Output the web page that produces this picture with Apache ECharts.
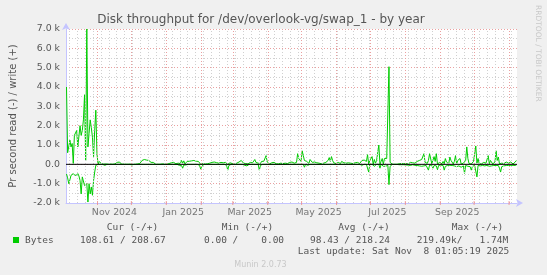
<!DOCTYPE html>
<html><head><meta charset="utf-8">
<script src="https://cdn.jsdelivr.net/npm/echarts@6/dist/echarts.min.js"></script>
<style>html,body{margin:0;padding:0;background:#f0f0f0}#c{width:547px;height:275px}</style>
</head><body><div id="c"></div>
<script>
// ---- data (daily averages, bytes per second) ----
const firstDay = '2024-10-04';
const axisStart = '2024-10-04T01:05:00Z';
const axisEnd = '2025-11-08T01:05:00Z';
const writeBytes = [
4000,600,650,1250,900,1080,50,1500,1600,1750,900,1000,2000,1500,1750,2300,3600,200,7000,900,1600,2300,1900,1400,400,1750,2800,550,0,150,
100,30,20,10,0,20,10,0,0,10,
0,0,10,20,30,100,180,120,20,0,
0,10,0,0,20,0,0,10,0,0,
0,0,10,20,30,40,100,200,150,250,
180,220,120,200,150,100,180,100,50,10,
0,0,10,0,0,20,30,10,0,0,
20,40,100,80,120,100,60,30,20,60,
150,40,200,60,180,20,120,150,130,160,
100,180,140,200,120,160,90,150,60,0,
30,40,20,10,0,30,40,60,30,100,
80,120,100,90,110,60,40,100,120,80,
130,100,50,0,40,80,60,40,20,10,
30,60,80,120,60,200,120,60,100,40,
80,20,60,100,20,80,60,250,100,0,
60,0,40,150,120,160,100,450,120,60,
20,40,80,40,100,60,30,50,20,40,
60,20,40,30,60,80,40,20,100,80,
120,100,60,30,100,550,300,350,150,700,
450,200,100,150,60,50,250,180,100,200,
120,50,80,100,60,40,30,80,60,120,
100,120,200,350,150,400,200,80,60,40,
60,100,80,40,150,60,80,120,60,40,
80,100,60,150,40,60,80,150,100,60,
40,120,200,180,220,200,150,500,0,200,
150,400,0,250,60,200,100,1000,0,150,
300,0,300,250,300,400,5050,100,20,10,
0,0,10,0,0,30,60,40,50,30,
60,40,30,20,50,100,200,80,40,60,
100,150,120,200,150,250,300,550,100,100,
50,200,550,650,30,20,400,150,550,20,
30,100,40,30,150,30,300,120,80,30,
380,200,250,20,150,450,30,200,100,300,
20,120,60,30,200,900,300,40,100,20,
60,150,120,950,60,300,30,80,20,120,
100,200,60,30,450,30,200,150,20,60,
120,700,200,380,20,30,60,120,40,30,
120,30,60,20,120,60,20,80,120,200
];
const readBytes = [
500,700,1000,800,570,520,480,520,600,570,480,600,830,1530,650,570,1100,1170,1000,1950,1000,1530,1170,1600,830,400,50,0,0,0,
0,0,0,0,50,50,0,0,0,0,
0,0,0,0,0,0,0,0,0,0,
0,0,0,0,0,0,0,0,30,0,
0,0,0,0,0,0,0,0,0,0,
0,0,0,0,0,0,0,0,0,50,
0,0,0,0,0,0,0,0,0,0,
0,0,0,0,0,0,0,0,0,30,
50,150,60,200,40,120,30,0,0,0,
0,0,0,0,0,0,0,0,50,250,
100,0,0,0,0,0,0,0,0,0,
0,0,0,0,0,0,0,0,0,50,
0,0,50,300,60,0,0,0,0,0,
0,0,0,0,0,0,0,0,50,0,
80,0,0,100,0,0,0,0,0,50,
0,300,50,0,0,0,0,0,0,0,
0,0,0,50,0,0,0,0,0,0,
0,0,0,0,0,0,0,0,0,0,
0,0,0,0,0,0,0,0,0,0,
0,150,0,0,50,0,0,0,0,50,
0,50,0,0,0,50,0,0,0,0,
0,0,0,0,0,0,0,50,0,0,
0,0,0,30,0,0,0,0,0,0,
0,0,0,0,0,0,0,0,0,0,
0,0,50,0,0,80,0,0,400,0,
0,0,100,100,50,0,50,0,200,0,
50,100,0,100,0,50,1050,100,0,0,
0,0,0,0,0,20,30,20,40,20,
20,30,50,40,30,60,40,20,30,50,
40,60,30,80,50,100,60,80,40,60,
30,300,40,60,50,200,60,100,80,280,
60,150,40,80,60,300,100,50,60,40,
50,100,60,50,80,40,120,60,80,50,
150,60,80,470,60,80,100,50,120,300,
100,150,60,100,650,60,100,80,150,60,
60,80,120,50,80,100,60,80,150,60,
80,60,100,60,200,400,120,60,80,60,
60,80,60,150,60,40,50,80,60,40
];
const monthStarts = ['2024-11-01','2024-12-01','2025-01-01','2025-02-01','2025-03-01','2025-04-01','2025-05-01','2025-06-01','2025-07-01','2025-08-01','2025-09-01','2025-10-01','2025-11-01'];
const monthLabelDates = ['2024-11-16','2025-01-16','2025-03-16','2025-05-16','2025-07-16','2025-09-16'];
const monthLabelTexts = ['Nov 2024','Jan 2025','Mar 2025','May 2025','Jul 2025','Sep 2025'];
const firstMonday = '2024-10-07';
const yMin = -2000, yMax = 7000, yStep = 1000;

const titleText = 'Disk throughput for /dev/overlook-vg/swap_1 - by year';
const yAxisTitle = 'Pr second read (-) / write (+)';
const legendHeaders = ['Cur (-/+)','Min (-/+)','Avg (-/+)','Max (-/+)'];
const legendName = 'Bytes';
const legendValues = ['108.61 / 208.67','0.00 /    0.00','98.43 / 218.24','219.49k/   1.74M'];
const lastUpdate = 'Last update: Sat Nov  8 01:05:19 2025';
const muninVersion = 'Munin 2.0.73';
const sideText = 'RRDTOOL / TOBI OETIKER';

// ---- build ----
const DAY = 86400000;
const t0 = Date.parse(firstDay);
const tMin = Date.parse(axisStart), tMax = Date.parse(axisEnd);
const writeData = writeBytes.map((v,i)=>[t0 + i*DAY + DAY/2, v]);
const readData = readBytes.map((v,i)=>[t0 + i*DAY + DAY/2, -v]);
const monthTs = monthStarts.map(s=>Date.parse(s));
const weekTs = [];
for (let t = Date.parse(firstMonday); t < tMax; t += 7*DAY) weekTs.push(t);

const GREEN = '#00cc00';
const TXT = '#555';
const AXIS = '#c4c4ff';
const sans = 'DejaVu Sans';
const mono = 'DejaVu Sans Mono';

const chart = echarts.init(document.getElementById('c'), null, {renderer:'canvas'});
const monoFont = '9.5px "' + mono + '"';
const graphics = [
  {type:'text', style:{x:261,y:19.5,text:titleText,font:'12px "'+sans+'"',fill:TXT,align:'center',verticalAlign:'middle'}, z:10},
  {type:'text', style:{x:0, y:0, text:sideText, font:'7.5px "'+sans+'"', fill:'#c8c8c8', align:'left', verticalAlign:'middle'}, x:537.5, y:5, rotation:-Math.PI/2},
  {type:'rect', shape:{x:13,y:237,width:6,height:6}, style:{fill:GREEN}},
  {type:'text', style:{x:25,y:240.5,text:legendName,font:monoFont,fill:TXT,verticalAlign:'middle'}},
  {type:'text', style:{x:297.7,y:252,text:lastUpdate,font:monoFont,fill:TXT,verticalAlign:'middle'}},
  {type:'text', style:{x:260.5,y:264.5,text:muninVersion,font:'8px "'+sans+'"',fill:'#c8c8c8',align:'center',verticalAlign:'middle'}}
];
const headerX = [106.7,221.7,338.3,451.7];
const valueX = [80,204,310,416.7];
legendHeaders.forEach((h,i)=>graphics.push({type:'text', style:{x:headerX[i],y:228,text:h,font:monoFont,fill:TXT,verticalAlign:'middle'}}));
legendValues.forEach((h,i)=>graphics.push({type:'text', style:{x:valueX[i],y:240.5,text:h,font:monoFont,fill:TXT,verticalAlign:'middle'}}));

chart.setOption({
  animation:false,
  backgroundColor:'#f0f0f0',
  grid:{left:66, right:30, top:29, bottom:72, show:true, backgroundColor:'#ffffff', borderWidth:0},
  xAxis:{type:'time', min:tMin, max:tMax,
    axisLine:{show:true, onZero:false, lineStyle:{color:AXIS,width:1}, symbol:['none','arrow'], symbolSize:[6,7], symbolOffset:[0,6]},
    axisTick:{show:false}, axisLabel:{show:false}, splitLine:{show:false}},
  yAxis:{type:'value', min:yMin, max:yMax, interval:yStep,
    axisLine:{show:true, lineStyle:{color:AXIS,width:1}, symbol:['none','arrow'], symbolSize:[6,7], symbolOffset:[0,6]},
    axisTick:{show:false},
    axisLabel:{color:TXT, fontFamily:sans, fontSize:9.4, margin:6,
      formatter:v=> v===0 ? '0.0' : (v/1000).toFixed(1)+' k'},
    splitLine:{show:true, lineStyle:{color:'#eaa0a0', type:[1,2], width:1}},
    minorTick:{show:false, splitNumber:2},
    minorSplitLine:{show:true, lineStyle:{color:'#d0d0d0', type:[1,2], width:1}},
    name:yAxisTitle, nameLocation:'middle', nameGap:48, nameRotate:90,
    nameTextStyle:{color:TXT, fontFamily:sans, fontSize:10}},
  graphic:graphics,
  series:[
    {type:'line', name:'grid', data:[[tMin,0]], symbol:'none', lineStyle:{opacity:0}, silent:true, z:1,
      markLine:{silent:true, symbol:'none', label:{show:false}, animation:false,
        data:[
          ...weekTs.filter(t=>!monthTs.some(m=>Math.abs(m-t)<DAY)).map(t=>({xAxis:t, lineStyle:{color:'#d0d0d0', type:[1,2], width:1}})),
          ...monthTs.map(t=>({xAxis:t, lineStyle:{color:'#eaa0a0', type:[1,2], width:1}}))
        ]}},
    {type:'line', name:'read', data:readData, showSymbol:false, symbol:'none', lineStyle:{color:GREEN,width:1}, z:3},
    {type:'line', name:'write', data:writeData, showSymbol:false, symbol:'none', lineStyle:{color:GREEN,width:1}, z:3},
    {type:'line', name:'zero', data:[[tMin,0],[tMax,0]], symbol:'none', lineStyle:{color:'#000',width:1}, z:5, silent:true},
    {type:'scatter', name:'monthTicks', data:monthTs.map(t=>[t,yMin]), symbol:'rect', symbolSize:[1,4], itemStyle:{color:'#e88'}, z:4, clip:false, silent:true},
    {type:'scatter', name:'labels', data:monthLabelDates.map((d,i)=>({value:[Date.parse(d),yMin], name:monthLabelTexts[i]})),
      symbolSize:0, clip:false, silent:true,
      label:{show:true, position:'bottom', distance:5, formatter:p=>p.name, color:TXT, fontFamily:sans, fontSize:9.4}}
  ]
});
</script></body></html>
